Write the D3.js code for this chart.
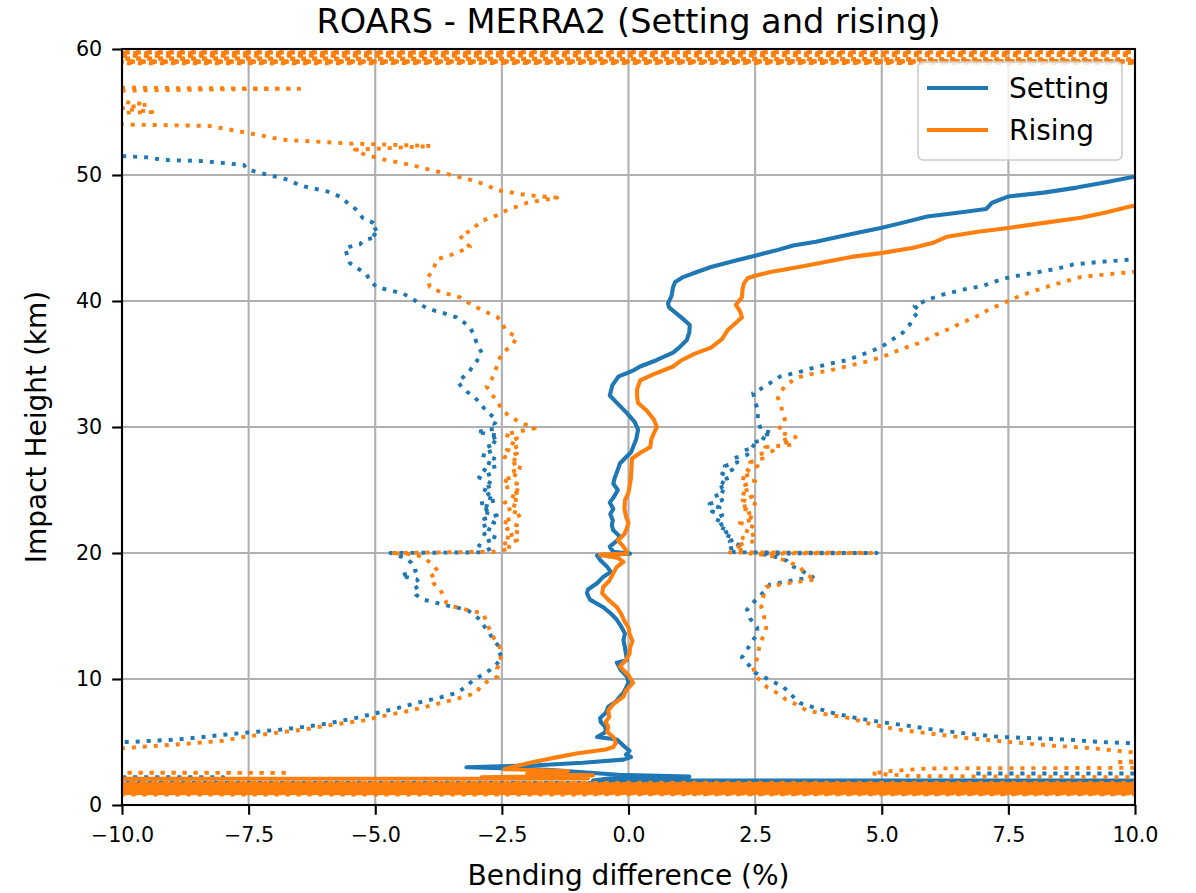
<!DOCTYPE html>
<html><head><meta charset="utf-8">
<script src="https://cdn.jsdelivr.net/npm/d3@7"></script>
<style>body{margin:0;background:#fff}svg{display:block}text{font-family:"DejaVu Sans",sans-serif;fill:#000}</style>
</head><body><svg id="c" width="1196" height="893"></svg>
<script>
// ---- data: [impact height (km), bending difference (%)] ----
const title = "ROARS - MERRA2 (Setting and rising)";
const xLabel = "Bending difference (%)";
const yLabel = "Impact Height (km)";
const xTicks = [-10, -7.5, -5, -2.5, 0, 2.5, 5, 7.5, 10];
const yTicks = [0, 10, 20, 30, 40, 50, 60];
const seriesNames = ["Setting", "Rising"];

const settingMean = [[1.9,40],
[1.95,-0.7],[2.1,-0.4],[2.25,1.2],[2.4,-0.2],[2.6,-0.9],[2.8,-1.6],[3.0,-3.2],[3.15,-1.8],[3.35,-0.9],[3.6,-0.1],[3.8,0.05],[4.0,-0.05],[4.3,0.02],[4.6,-0.07],[4.9,-0.15],[5.2,-0.23],[5.4,-0.62],[5.8,-0.45],[6.2,-0.46],[6.6,-0.55],[6.9,-0.56],[7.3,-0.45],[7.8,-0.4],[8.2,-0.25],[8.6,-0.17],[8.9,-0.1],[9.3,-0.05],[9.7,0],[10.2,-0.03],[10.7,-0.15],[11.3,-0.23],[11.5,-0.03],[12.0,-0.05],[12.5,-0.07],[13.1,-0.1],[13.6,-0.07],[14.2,-0.15],[14.7,-0.23],[15.2,-0.35],[15.7,-0.5],[16.3,-0.76],[16.8,-0.82],[17.1,-0.8],[17.6,-0.62],[18.1,-0.5],[18.5,-0.35],[18.9,-0.42],[19.4,-0.55],[19.8,-0.62],[19.95,0.03],[20.1,-0.3],[20.5,-0.37],[21.0,-0.22],[21.3,-0.17],[21.8,-0.3],[22.2,-0.33],[22.6,-0.31],[23.1,-0.36],[23.5,-0.3],[24.0,-0.37],[24.5,-0.28],[25.0,-0.21],[25.5,-0.3],[26.0,-0.27],[26.5,-0.22],[27.1,-0.17],[27.6,-0.05],[28.0,0.05],[28.4,0.09],[29.0,0.15],[29.8,0.19],[30.4,0.12],[31.1,-0.03],[31.8,-0.2],[32.5,-0.37],[33.3,-0.32],[34.0,-0.2],[34.5,0.1],[34.8,0.23],[35.3,0.55],[35.9,0.88],[36.3,1.0],[36.9,1.15],[37.5,1.2],[38.1,1.21],[38.5,1.1],[39.0,0.95],[39.5,0.8],[39.8,0.78],[40.4,0.85],[41.1,0.88],[41.5,0.92],[41.9,1.08],[42.3,1.35],[42.7,1.63],[43.2,2.1],[43.6,2.5],[44.0,2.9],[44.4,3.25],[44.7,3.7],[45.0,4.04],[45.4,4.5],[45.8,4.98],[46.2,5.4],[46.7,5.9],[47.0,6.5],[47.3,7.06],[47.8,7.18],[48.3,7.5],[48.6,8.2],[49.0,8.85],[49.4,9.4],[49.8,9.9],[50.1,10.4],[50.5,11],[52,14]];

const risingMean = [[2.0,-40],
[2.1,-0.8],[2.2,-2.9],[2.35,-0.7],[2.5,-2.0],[2.7,-1.2],[2.85,-2.45],[3.1,-2.2],[3.4,-1.9],[3.8,-1.4],[4.1,-1.0],[4.4,-0.45],[4.6,-0.3],[4.9,-0.25],[5.4,-0.3],[5.8,-0.42],[6.2,-0.4],[6.6,-0.45],[7.0,-0.38],[7.5,-0.4],[8.0,-0.3],[8.6,-0.1],[9.1,-0.05],[9.7,0.09],[10.3,0.0],[10.7,-0.1],[11.0,-0.17],[11.5,-0.05],[12.0,0.02],[12.5,0.03],[13.0,0.08],[13.6,0.02],[14.1,0.0],[14.6,-0.08],[15.2,-0.15],[15.7,-0.23],[16.3,-0.4],[16.8,-0.52],[17.3,-0.5],[17.8,-0.38],[18.4,-0.3],[18.9,-0.23],[19.3,-0.1],[19.6,-0.2],[19.85,-0.56],[19.95,-0.03],[20.2,-0.05],[20.5,-0.1],[21.0,-0.21],[21.5,-0.08],[22.0,-0.03],[22.4,0.0],[22.9,-0.05],[23.5,-0.08],[24.2,-0.07],[24.8,0.0],[25.5,0.03],[26.0,0.05],[26.8,0.06],[27.5,0.07],[28.0,0.25],[28.4,0.43],[29.0,0.45],[29.5,0.5],[30.0,0.56],[30.6,0.5],[31.3,0.36],[31.9,0.19],[32.4,0.17],[33.0,0.17],[33.7,0.23],[34.2,0.5],[34.8,0.88],[35.3,1.05],[35.8,1.3],[36.3,1.63],[37.0,1.85],[37.7,1.96],[38.2,2.1],[38.7,2.24],[39.2,2.2],[39.7,2.12],[40.3,2.24],[40.9,2.25],[41.4,2.28],[41.8,2.35],[42.0,2.5],[42.3,2.8],[42.5,3.09],[42.8,3.5],[43.1,3.88],[43.5,4.4],[43.8,4.98],[44.2,5.6],[44.6,6.0],[45.1,6.29],[45.5,6.9],[45.8,7.5],[46.2,8.2],[46.6,8.93],[47.0,9.4],[47.5,9.9],[47.9,10.5],[49,12]];

const settingLow = [[0.9,40],[1.1,-40],[1.3,40],[1.5,-40],[1.7,40],[1.75,-40],[2.2,-8.0],[2.22,-12],[4.95,-11],[5.0,-9.84],[5.1,-9.4],[5.2,-8.9],[5.4,-8.4],[5.6,-7.93],[5.8,-7.4],[6.0,-6.82],[6.25,-6.3],[6.5,-5.9],[6.9,-5.4],[7.3,-4.97],[7.7,-4.55],[8.1,-4.18],[8.5,-3.75],[8.9,-3.39],[9.4,-3.2],[9.9,-3.07],[10.3,-2.9],[10.7,-2.74],[11.2,-2.6],[11.7,-2.5],[12.1,-2.55],[12.5,-2.54],[13.0,-2.65],[13.6,-2.74],[14.2,-2.85],[14.7,-2.93],[15.1,-3.05],[15.5,-3.19],[15.9,-3.66],[16.3,-4.05],[16.7,-4.2],[17.1,-4.25],[17.5,-4.1],[17.9,-4.18],[18.2,-4.5],[18.6,-4.2],[19.2,-4.28],[19.6,-4.4],[20.0,-4.7],[20.05,-2.9],[20.3,-2.75],[20.6,-2.95],[20.9,-2.8],[21.2,-2.6],[21.5,-2.85],[21.8,-2.7],[22.1,-2.9],[22.4,-2.65],[22.7,-2.85],[23.0,-2.6],[23.3,-2.9],[23.6,-2.7],[23.9,-2.95],[24.2,-2.6],[24.5,-2.85],[24.8,-2.7],[25.1,-2.9],[25.4,-2.65],[25.7,-2.8],[26.0,-2.95],[26.3,-2.7],[26.6,-2.85],[26.9,-2.6],[27.2,-2.8],[27.5,-2.65],[27.8,-2.9],[28.1,-2.7],[28.4,-2.8],[28.7,-2.6],[29.0,-2.75],[29.3,-2.55],[29.6,-3.0],[29.9,-2.6],[30.2,-2.65],[30.6,-2.6],[31.2,-2.8],[31.9,-2.93],[32.4,-3.05],[32.8,-3.19],[33.2,-3.3],[33.6,-3.37],[34.0,-3.25],[34.5,-3.13],[35.2,-3.0],[35.9,-2.9],[36.3,-2.95],[36.7,-3.0],[37.3,-3.05],[37.9,-3.13],[38.3,-3.25],[38.7,-3.39],[39.1,-3.7],[39.4,-3.98],[40.0,-4.2],[40.6,-4.45],[41.1,-4.97],[41.6,-5.1],[42.1,-5.17],[42.6,-5.35],[43.0,-5.5],[43.6,-5.55],[44.2,-5.6],[44.5,-5.3],[44.8,-5.24],[45.1,-4.96],[45.5,-5.1],[45.8,-4.95],[46.2,-5.04],[46.6,-5.25],[47.2,-5.36],[47.8,-5.55],[48.3,-5.7],[48.7,-5.95],[49.0,-6.3],[49.2,-6.5],[49.6,-6.7],[50.0,-7.1],[50.4,-7.5],[50.8,-7.6],[51.1,-8.4],[51.2,-9.2],[51.4,-9.5],[51.5,-10.0],[51.6,-12]];

const settingHigh = [[0.95,-40],[1.15,40],[1.35,-40],[1.55,40],[1.72,-40],[1.78,40],[2.5,12],[2.5,6.8],[2.52,12],[4.8,11],[4.9,9.96],[5.0,9.3],[5.2,8.65],[5.3,8.0],[5.4,7.33],[5.7,6.6],[6.0,6.0],[6.3,5.5],[6.6,4.96],[6.9,4.5],[7.3,4.04],[7.7,3.7],[8.1,3.38],[8.8,3.2],[9.4,3.05],[10.0,2.75],[10.5,2.5],[11.0,2.4],[11.7,2.24],[12.4,2.35],[13.1,2.46],[13.6,2.55],[14.1,2.54],[14.8,2.4],[15.5,2.34],[16.0,2.45],[16.5,2.56],[17.0,2.7],[17.5,2.79],[17.8,3.2],[18.1,3.64],[18.4,3.5],[18.7,3.38],[19.0,3.2],[19.4,3.12],[19.7,2.9],[19.95,2.6],[20.0,4.9],[20.05,2.1],[20.3,1.95],[20.6,2.2],[20.9,2.0],[21.2,2.1],[21.5,1.85],[21.8,2.0],[22.1,1.75],[22.4,1.9],[22.7,1.7],[23.0,1.85],[23.3,1.65],[23.6,1.8],[23.9,1.6],[24.2,1.85],[24.5,1.7],[24.8,1.9],[25.1,1.75],[25.4,1.95],[25.7,1.8],[26.0,2.0],[26.3,1.85],[26.6,2.05],[26.9,1.9],[27.2,2.15],[27.5,2.05],[27.8,2.35],[28.1,2.25],[28.4,2.5],[28.7,2.4],[29.0,2.7],[29.3,2.6],[29.5,2.85],[29.8,2.6],[30.0,2.6],[30.6,2.55],[31.3,2.56],[32.0,2.5],[32.7,2.46],[33.0,2.6],[33.5,2.8],[34.0,2.99],[34.4,3.4],[34.7,3.65],[35.0,3.95],[35.3,4.31],[35.8,4.65],[36.3,4.97],[36.9,5.2],[37.5,5.42],[38.1,5.55],[38.7,5.62],[39.2,5.75],[39.6,5.65],[40.1,5.9],[40.5,6.2],[40.9,6.6],[41.2,7.0],[41.5,7.2],[41.9,7.53],[42.3,8.1],[42.6,8.5],[42.9,8.78],[43.1,9.3],[43.3,9.96],[43.6,11]];

const risingLow = [[0.8,-40],[0.88,40],[0.96,-40],[1.04,40],[1.12,-40],[1.2,40],[1.28,-40],[1.36,40],[1.44,-40],[1.52,40],[1.6,-40],[1.68,40],[1.76,-40],[2.55,-15],[2.55,-6.7],[2.57,-15],[4.4,-12],[4.5,-10.0],[4.7,-9.3],[4.9,-8.6],[5.1,-8.0],[5.4,-7.6],[5.7,-7.0],[6.0,-6.4],[6.4,-5.8],[6.7,-5.24],[7.1,-4.8],[7.5,-4.3],[8.0,-3.8],[8.5,-3.33],[8.9,-3.0],[9.4,-2.93],[9.9,-2.75],[10.2,-2.58],[10.8,-2.6],[11.4,-2.5],[12.0,-2.55],[12.5,-2.54],[13.2,-2.65],[13.9,-2.74],[14.5,-2.8],[15.2,-2.87],[15.5,-3.2],[15.8,-3.5],[16.0,-3.59],[16.6,-3.65],[17.1,-3.72],[17.6,-3.85],[18.1,-3.92],[18.5,-3.75],[19.0,-3.85],[19.5,-4.0],[19.9,-4.2],[20.0,-4.7],[20.1,-2.6],[20.4,-2.3],[20.7,-2.5],[21.0,-2.2],[21.3,-2.45],[21.6,-2.15],[21.9,-2.4],[22.2,-2.2],[22.5,-2.5],[22.8,-2.25],[23.1,-2.1],[23.4,-2.4],[23.7,-2.2],[24.0,-2.45],[24.3,-2.15],[24.6,-2.35],[24.9,-2.1],[25.2,-2.4],[25.5,-2.2],[25.8,-2.5],[26.1,-2.2],[26.4,-2.35],[26.7,-2.1],[27.0,-2.3],[27.3,-2.15],[27.6,-2.45],[27.9,-2.2],[28.2,-2.4],[28.5,-2.15],[28.8,-2.35],[29.1,-2.2],[29.4,-2.45],[29.7,-2.1],[29.9,-1.85],[30.3,-2.1],[30.8,-2.34],[31.4,-2.5],[32.1,-2.6],[32.6,-2.7],[33.2,-2.8],[33.8,-2.7],[34.3,-2.65],[34.8,-2.6],[35.4,-2.55],[35.9,-2.48],[36.5,-2.3],[37.1,-2.2],[37.6,-2.4],[38.2,-2.5],[38.7,-2.58],[39.1,-2.8],[39.7,-3.1],[40.3,-3.33],[40.7,-3.7],[41.1,-3.92],[41.5,-3.95],[41.9,-3.96],[42.5,-3.85],[43.3,-3.79],[43.8,-3.4],[44.3,-3.13],[44.8,-3.25],[45.2,-3.33],[45.6,-3.1],[46.0,-3.0],[46.3,-2.93],[46.8,-2.6],[47.2,-2.4],[47.8,-2.0],[48.2,-1.41],[48.4,-2.0],[48.8,-2.6],[49.2,-2.8],[49.6,-3.1],[50.0,-3.5],[50.4,-3.9],[50.8,-4.3],[51.2,-4.8],[51.6,-5.2],[52.0,-5.4],[52.2,-4.4],[52.3,-3.9],[52.5,-5.5],[52.8,-6.85],[53.1,-7.2],[53.4,-7.6],[53.7,-8.0],[53.9,-8.3],[54.0,-9.9],[54.05,-11],[54.9,-10.5],[55.0,-9.4],[55.3,-10.0],[55.6,-9.5],[55.9,-10.2],[56.5,-11],[56.7,-9.9],[56.8,-8],[56.85,-6.5],[56.9,-9],[57.0,-12],[58.84,-40],[58.92,40],[59.0,-40],[59.08,40],[59.36,-40],[59.64,40],[59.72,-40],[59.78,40]];

const risingHigh = [[0.84,40],[0.92,-40],[1.0,40],[1.08,-40],[1.16,40],[1.24,-40],[1.32,40],[1.4,-40],[1.48,40],[1.56,-40],[1.64,40],[1.72,-40],[1.8,40],[2.15,12],[2.3,5.6],[2.5,4.8],[2.7,5.2],[2.9,5.9],[2.95,10.2],[3.0,12],[3.3,11],[3.4,9.6],[3.5,10.2],[3.7,11],[4.0,10.5],[4.2,9.9],[4.5,9.17],[4.7,8.4],[5.0,7.53],[5.3,6.7],[5.7,5.9],[6.0,5.3],[6.4,4.8],[6.9,4.37],[7.2,3.9],[7.5,3.52],[8.0,3.3],[8.4,3.1],[8.9,2.93],[9.3,2.75],[9.8,2.62],[10.3,2.5],[11.0,2.46],[11.7,2.55],[12.5,2.58],[13.3,2.65],[14.1,2.72],[14.9,2.68],[15.7,2.62],[16.5,2.66],[17.3,2.72],[17.6,3.12],[17.9,3.7],[18.3,3.5],[18.9,3.38],[19.4,3.1],[19.8,2.8],[19.95,2.4],[20.0,4.8],[20.05,2.0],[20.3,2.3],[20.6,2.1],[20.9,2.45],[21.2,2.25],[21.5,2.5],[21.8,2.3],[22.1,2.45],[22.4,2.2],[22.7,2.5],[23.0,2.3],[23.3,2.45],[23.6,2.2],[23.9,2.5],[24.2,2.25],[24.5,2.45],[24.8,2.2],[25.1,2.4],[25.4,2.3],[25.7,2.5],[26.0,2.2],[26.3,2.45],[26.6,2.35],[26.9,2.55],[27.2,2.4],[27.5,2.65],[27.8,2.55],[28.1,2.85],[28.4,2.7],[28.6,3.25],[28.9,3.0],[29.2,3.3],[29.5,3.05],[29.8,2.95],[30.4,3.1],[31.1,3.05],[31.8,3.0],[32.3,2.95],[32.7,2.99],[33.3,3.1],[33.9,3.32],[34.2,3.6],[34.5,3.98],[34.9,4.4],[35.3,4.8],[35.7,5.1],[36.2,5.4],[36.7,5.76],[37.2,6.0],[37.7,6.28],[38.3,6.6],[38.9,6.94],[39.3,7.1],[39.7,7.33],[40.2,7.6],[40.7,7.93],[41.3,8.4],[41.9,8.92],[42.1,9.4],[42.3,9.96],[42.6,11],[58.88,40],[58.96,-40],[59.04,40],[59.34,-40],[59.62,40],[59.7,-40],[59.76,40]];

// ---- drawing ----
const C1 = "#1f77b4", C2 = "#ff7f0e";
const L = 122, R = 1135, T = 49, B = 805;
const svg = d3.select("#c");
const x = d3.scaleLinear().domain([-10, 10]).range([L, R]);
const y = d3.scaleLinear().domain([0, 60]).range([B, T]);

svg.append("defs").append("clipPath").attr("id", "clip")
  .append("rect").attr("x", L).attr("y", T).attr("width", R - L).attr("height", B - T);

// grid
const GW = 2.1;
const grid = svg.append("g");
grid.selectAll(".gx").data(xTicks).join("line")
  .attr("x1", d => x(d)).attr("x2", d => x(d)).attr("y1", T).attr("y2", B)
  .attr("stroke", "#b0b0b0").attr("stroke-width", GW);
grid.selectAll(".gy").data(yTicks).join("line")
  .attr("y1", d => y(d)).attr("y2", d => y(d)).attr("x1", L).attr("x2", R)
  .attr("stroke", "#b0b0b0").attr("stroke-width", GW);

const line = d3.line().x(d => x(d[1])).y(d => y(d[0]));
const plot = svg.append("g").attr("clip-path", "url(#clip)");
const LW = 4.1;
const dots = "4,7";
function draw(data, color, dotted) {
  plot.append("path").attr("d", line(data)).attr("fill", "none")
    .attr("stroke", color).attr("stroke-width", dotted ? 3.9 : LW)
    .attr("stroke-linejoin", "round").attr("stroke-linecap", dotted ? "butt" : "square")
    .attr("stroke-dasharray", dotted ? dots : null);
}
draw(settingMean, C1, false);
draw(settingLow, C1, true);
draw(settingHigh, C1, true);
draw(risingMean, C2, false);
draw(risingLow, C2, true);
draw(risingHigh, C2, true);

// axes
const fs = 20.7, fl = 28;
const xAxis = d3.axisBottom(x).tickValues(xTicks).tickSize(9.8).tickPadding(13)
  .tickFormat(d => d3.format(".1f")(d).replace("-", "\u2212"));
const gx = svg.append("g").attr("transform", `translate(0,${B})`).call(xAxis);
const yAxis = d3.axisLeft(y).tickValues(yTicks).tickSize(9.8).tickPadding(10).tickFormat(d3.format("d"));
const gy = svg.append("g").attr("transform", `translate(${L},0)`).call(yAxis);
[gx, gy].forEach(g => {
  g.select(".domain").remove();
  g.selectAll(".tick line").attr("stroke", "#000").attr("stroke-width", GW);
  g.selectAll(".tick text").attr("font-size", fs).attr("font-family", "DejaVu Sans").attr("fill", "#000");
});
// frame
svg.append("rect").attr("x", L).attr("y", T).attr("width", R - L).attr("height", B - T)
  .attr("fill", "none").attr("stroke", "#000").attr("stroke-width", GW);

// labels
svg.append("text").attr("x", (L + R) / 2).attr("y", 33).attr("text-anchor", "middle")
  .attr("font-size", 33.6).text(title);
svg.append("text").attr("x", (L + R) / 2).attr("y", 885).attr("text-anchor", "middle")
  .attr("font-size", fl).text(xLabel);
svg.append("text").attr("transform", `translate(46,${(T + B) / 2}) rotate(-90)`).attr("text-anchor", "middle")
  .attr("font-size", fl).text(yLabel);

// legend
const lg = svg.append("g");
lg.append("rect").attr("x", 918).attr("y", 62).attr("width", 204).attr("height", 98).attr("rx", 5)
  .attr("fill", "#fff").attr("fill-opacity", 0.8).attr("stroke", "#cccccc").attr("stroke-width", 1.6);
[C1, C2].forEach((c, i) => {
  const yy = 88 + i * 42;
  lg.append("line").attr("x1", 927).attr("x2", 988).attr("y1", yy).attr("y2", yy)
    .attr("stroke", c).attr("stroke-width", LW);
  lg.append("text").attr("x", 1009).attr("y", yy + 10).attr("font-size", fl).text(seriesNames[i]);
});
</script></body></html>
